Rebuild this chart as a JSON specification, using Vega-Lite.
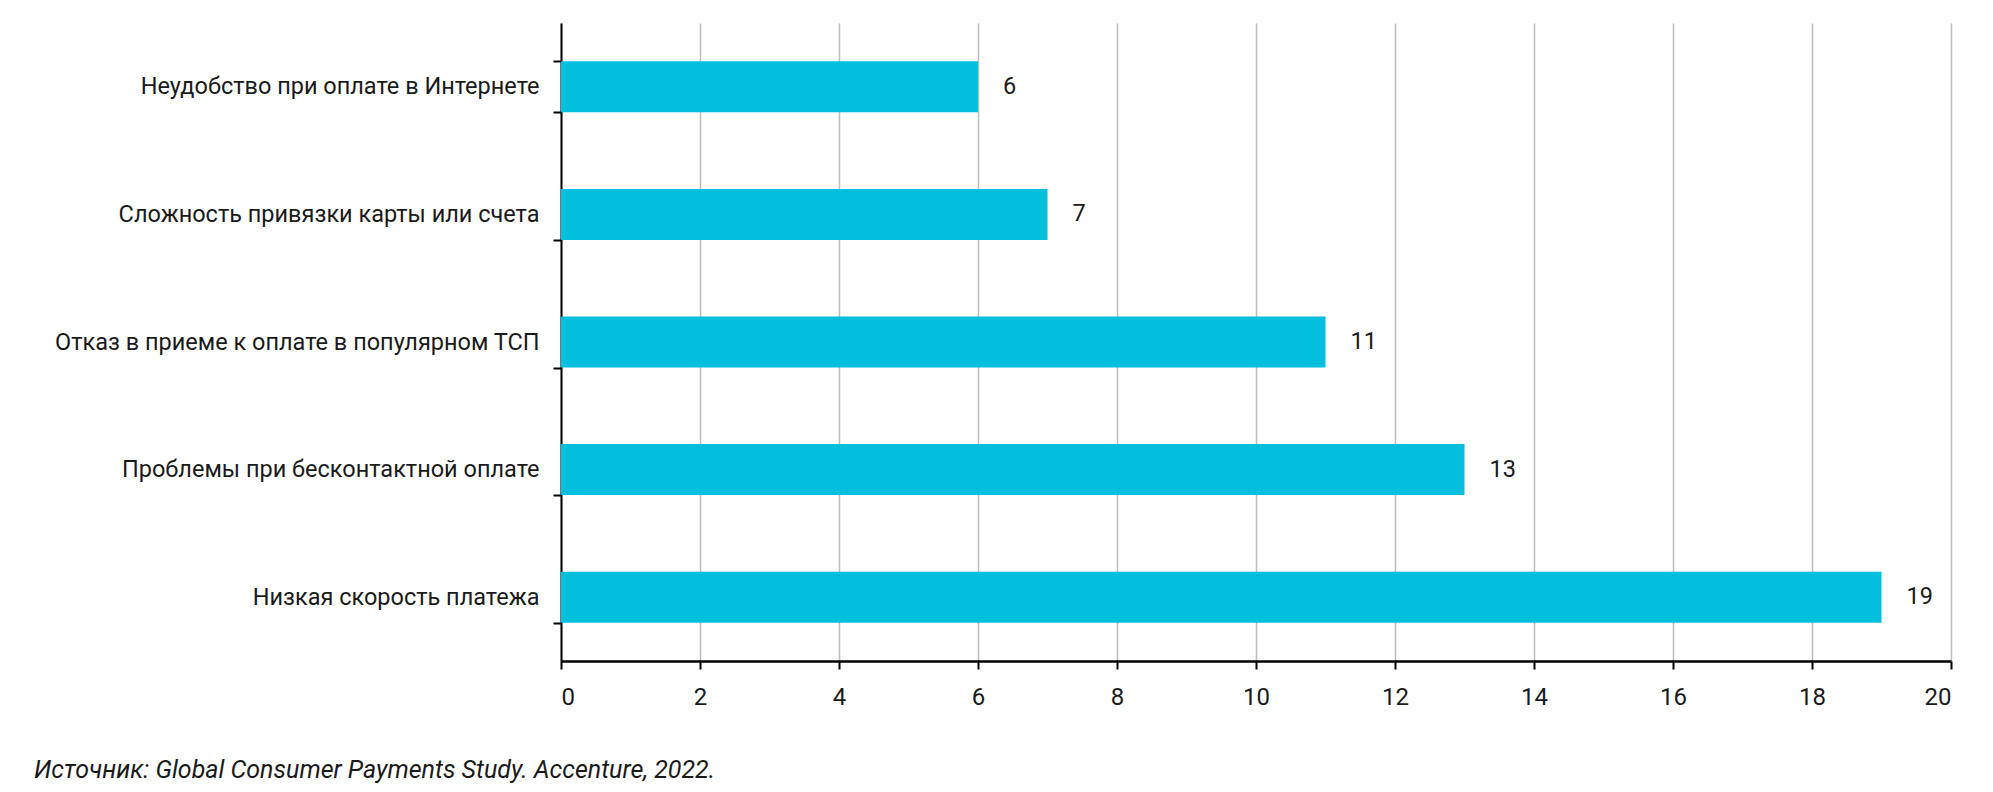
{
  "$schema": "https://vega.github.io/schema/vega-lite/v6.json",
  "autosize": {"type": "none"},
  "padding": {"left": 561, "top": 23, "right": 42, "bottom": 131},
  "width": 1390,
  "height": 638,
  "background": "white",
  "config": {
    "view": {"stroke": null},
    "font": "Roboto, sans-serif"
  },
  "title": {
    "text": "Источник: Global Consumer Payments Study. Accenture, 2022.",
    "orient": "bottom",
    "anchor": "start",
    "frame": "group",
    "dx": -527,
    "offset": 49,
    "fontSize": 25,
    "fontStyle": "italic",
    "fontWeight": "normal",
    "color": "#1a1a1a",
    "font": "Roboto, sans-serif"
  },
  "data": {
    "values": [
      {"reason": "Неудобство при оплате в Интернете", "value": 6},
      {"reason": "Сложность привязки карты или счета", "value": 7},
      {"reason": "Отказ в приеме к оплате в популярном ТСП", "value": 11},
      {"reason": "Проблемы при бесконтактной оплате", "value": 13},
      {"reason": "Низкая скорость платежа", "value": 19}
    ]
  },
  "encoding": {
    "y": {
      "field": "reason",
      "type": "nominal",
      "sort": null,
      "scale": {"paddingInner": 0.6, "paddingOuter": 0.3},
      "axis": {
        "title": null,
        "domainColor": "#000000",
        "domainWidth": 2,
        "tickColor": "#000000",
        "tickWidth": 2,
        "tickSize": 8,
        "tickBand": "extent",
        "labelFontSize": 23.5,
        "labelColor": "#1a1a1a",
        "labelPadding": 14,
        "labelLimit": 600
      }
    },
    "x": {
      "field": "value",
      "type": "quantitative",
      "scale": {"domain": [0, 20], "nice": false},
      "axis": {
        "title": null,
        "values": [0, 2, 4, 6, 8, 10, 12, 14, 16, 18, 20],
        "grid": true,
        "gridColor": "#bdbdbd",
        "gridWidth": 1.5,
        "domainColor": "#000000",
        "domainWidth": 2.5,
        "tickColor": "#000000",
        "tickWidth": 2,
        "tickSize": 8,
        "labelFontSize": 24,
        "labelColor": "#1a1a1a",
        "labelPadding": 16
      }
    }
  },
  "layer": [
    {"mark": {"type": "bar", "color": "#03BFDE"}},
    {
      "mark": {"type": "text", "align": "left", "dx": 25, "fontSize": 23.5, "color": "#1a1a1a"},
      "encoding": {"text": {"field": "value", "type": "quantitative"}}
    }
  ]
}
